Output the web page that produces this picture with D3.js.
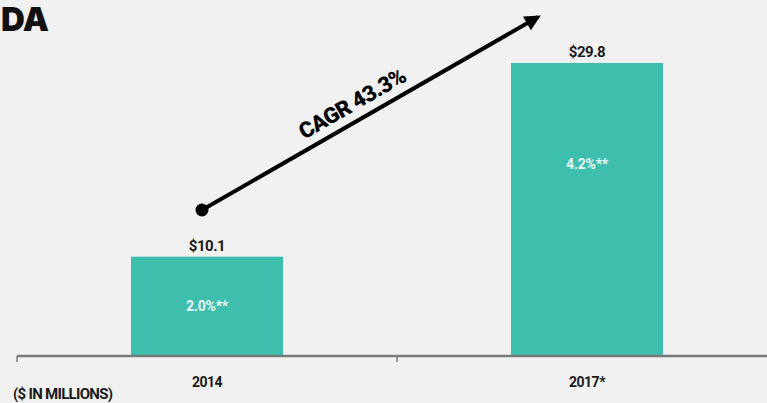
<!DOCTYPE html>
<html>
<head>
<meta charset="utf-8">
<script src="https://cdn.jsdelivr.net/npm/d3@7"></script>
<style>
  html, body { margin: 0; padding: 0; background: #f1f1f1; }
  svg { display: block; }
</style>
</head>
<body>
<script>
// Adjusted EBITDA, two reporting years
const categories = ["2014", "2017*"];
const values = [10.1, 29.8];
const valueLabels = ["$10.1", "$29.8"];
const marginLabels = ["2.0%**", "4.2%**"];
const cagrLabel = "CAGR 43.3%";
const unitLabel = "($ IN MILLIONS)";
const titleText = "DA";

const W = 767, H = 403;
const svg = d3.select("body").append("svg").attr("width", W).attr("height", H);

svg.append("rect").attr("width", W).attr("height", H).attr("fill", "#f1f1f1");

const baseY = 356;
const x = d3.scaleBand().domain(categories).range([17, 777]).paddingInner(0.6).paddingOuter(0.3);
const y = d3.scaleLinear().domain([0, 30]).range([baseY, 61]);

const font = "'Roboto', 'Liberation Sans', sans-serif";

// title fragment
svg.append("text")
  .attr("x", 1).attr("y", 31)
  .attr("font-family", "'Inter', 'Liberation Sans', sans-serif")
  .attr("font-weight", 900)
  .attr("font-size", 33)
  .attr("letter-spacing", -0.5)
  .attr("fill", "#111")
  .text(titleText);

// bars
svg.selectAll("rect.bar").data(values).join("rect")
  .attr("class", "bar")
  .attr("x", (d, i) => x(categories[i]))
  .attr("width", x.bandwidth())
  .attr("y", d => y(d))
  .attr("height", d => baseY - y(d))
  .attr("fill", "#3ebfad");

// value labels above bars
svg.selectAll("text.val").data(values).join("text")
  .attr("class", "val")
  .attr("x", (d, i) => x(categories[i]) + x.bandwidth() / 2)
  .attr("y", d => y(d) - 6)
  .attr("text-anchor", "middle")
  .attr("font-family", font)
  .attr("font-weight", 700)
  .attr("font-size", 15)
  .attr("letter-spacing", -0.5)
  .attr("fill", "#1a1a1a")
  .text((d, i) => valueLabels[i]);

// margin labels inside bars
const innerFrac = [0.5, 0.345];
svg.selectAll("text.margin").data(values).join("text")
  .attr("class", "margin")
  .attr("x", (d, i) => x(categories[i]) + x.bandwidth() / 2)
  .attr("y", (d, i) => y(d) + (baseY - y(d)) * innerFrac[i] + 5)
  .attr("text-anchor", "middle")
  .attr("font-family", font)
  .attr("font-weight", 700)
  .attr("font-size", 14)
  .attr("letter-spacing", -0.2)
  .attr("fill", "#eaf8f4")
  .text((d, i) => marginLabels[i]);

// category axis
const axis = d3.axisBottom(x).tickSize(0);
const gAxis = svg.append("g").attr("transform", `translate(0,${baseY})`).call(axis);
gAxis.select(".domain").remove();
gAxis.selectAll("text")
  .attr("y", 31).attr("dy", 0)
  .attr("font-family", font)
  .attr("font-weight", 700)
  .attr("font-size", 14)
  .attr("letter-spacing", -0.5)
  .attr("fill", "#1a1a1a");

svg.append("line")
  .attr("x1", 17).attr("x2", W).attr("y1", baseY).attr("y2", baseY)
  .attr("stroke", "#7a7a7a").attr("stroke-width", 2.5);

// band separators
const tickXs = [x.range()[0], x(categories[1]) - x.step() * x.paddingInner() / 2];
svg.selectAll("line.tick").data(tickXs).join("line")
  .attr("class", "tick")
  .attr("x1", d => d).attr("x2", d => d)
  .attr("y1", baseY).attr("y2", baseY + 6)
  .attr("stroke", "#7a7a7a").attr("stroke-width", 1.5);

// unit note
svg.append("text")
  .attr("x", 13).attr("y", 399)
  .attr("font-family", font)
  .attr("font-weight", 700)
  .attr("font-size", 15)
  .attr("letter-spacing", -0.7)
  .attr("fill", "#1a1a1a")
  .text(unitLabel);

// growth arrow
const defs = svg.append("defs");
defs.append("marker")
  .attr("id", "head")
  .attr("viewBox", "0 0 10 10")
  .attr("refX", 8).attr("refY", 5)
  .attr("markerWidth", 4.4).attr("markerHeight", 4)
  .attr("markerUnits", "strokeWidth")
  .attr("orient", "auto")
  .append("path").attr("d", "M0,0 L10,5 L0,10 Z").attr("fill", "#000");

const ax0 = 202, ay0 = 210, ax1 = 540, ay1 = 16;
svg.append("line")
  .attr("x1", ax0).attr("y1", ay0).attr("x2", ax1 - 2).attr("y2", ay1 + 1)
  .attr("stroke", "#000").attr("stroke-width", 4)
  .attr("marker-end", "url(#head)");
svg.append("circle").attr("cx", ax0).attr("cy", ay0).attr("r", 6.5).attr("fill", "#000");

const ang = Math.atan2(ay1 - ay0, ax1 - ax0) * 180 / Math.PI;
svg.append("text")
  .attr("transform", `translate(353,105) rotate(${ang})`)
  .attr("text-anchor", "middle")
  .attr("dominant-baseline", "middle")
  .attr("font-family", font)
  .attr("font-weight", 900)
  .attr("font-size", 22)
  .attr("letter-spacing", -0.6)
  .attr("fill", "#000")
  .text(cagrLabel);
</script>
</body>
</html>
